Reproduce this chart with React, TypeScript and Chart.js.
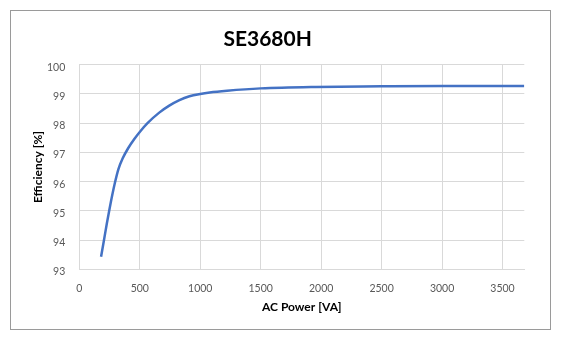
import React, { useEffect, useRef } from "react";
import { Chart, registerables } from "chart.js";

Chart.register(...registerables);

const chartTitle = "SE3680H";
const xAxisTitle = "AC Power [VA]";
const yAxisTitle = "Efficiency [%]";

const powerVA = [180, 205, 227, 248, 273, 295, 323, 358, 405, 455, 500, 564, 661, 744, 828, 911, 1000, 1078, 1222, 1500, 1917, 2500, 3000, 3680];
const efficiency = [93.43, 94.02, 94.55, 95.02, 95.55, 95.97, 96.42, 96.79, 97.15, 97.46, 97.7, 98.0, 98.36, 98.6, 98.79, 98.92, 99.0, 99.05, 99.11, 99.19, 99.24, 99.26, 99.27, 99.27];

const xTickValues = [0, 500, 1000, 1500, 2000, 2500, 3000, 3500];
const yTickValues = [93, 94, 95, 96, 97, 98, 99, 100];
const xMin = 0;
const xMax = 3680;
const yMin = 93;
const yMax = 100;

export default function App() {
  const canvasRef = useRef<HTMLCanvasElement | null>(null);

  useEffect(() => {
    if (!canvasRef.current) return;
    const font = "Lato, 'Liberation Sans', sans-serif";
    const chart = new Chart(canvasRef.current, {
      type: "line",
      data: {
        datasets: [
          {
            data: powerVA.map((x, i) => ({ x, y: efficiency[i] })),
            borderColor: "#4472C4",
            borderWidth: 2.5,
            pointRadius: 0,
            cubicInterpolationMode: "monotone",
            fill: false,
          },
        ],
      },
      options: {
        animation: false,
        responsive: false,
        maintainAspectRatio: false,
        layout: { padding: { left: 0, right: 25.7, top: 0, bottom: 0 } },
        plugins: {
          legend: { display: false },
          tooltip: { enabled: false },
          title: {
            display: true,
            text: chartTitle,
            color: "#000000",
            font: { family: font, size: 21, weight: "bold" },
            padding: { top: 15.6, bottom: 12.9 },
          },
        },
        scales: {
          x: {
            type: "linear",
            min: xMin,
            max: xMax,
            afterFit: (s: any) => {
              s.height = 59.7;
            },
            afterBuildTicks: (s: any) => {
              s.ticks = xTickValues.map((v) => ({ value: v }));
            },
            ticks: {
              color: "#595959",
              font: { family: font, size: 10.5 },
              padding: 13,
              maxRotation: 0,
              autoSkip: false,
              callback: (v: any) => String(v),
            },
            grid: { color: "#d9d9d9", drawTicks: false, lineWidth: 1 },
            border: { color: "#d9d9d9", width: 1 },
            title: {
              display: true,
              text: xAxisTitle,
              color: "#000000",
              font: { family: font, size: 12, weight: "bold" },
              padding: { top: 0, bottom: 14.5 },
            },
          },
          y: {
            type: "linear",
            min: yMin,
            max: yMax,
            afterFit: (s: any) => {
              s.width = 68.3;
            },
            afterBuildTicks: (s: any) => {
              s.ticks = yTickValues.map((v) => ({ value: v }));
            },
            ticks: {
              color: "#595959",
              font: { family: font, size: 10.5 },
              padding: 14,
              labelOffset: 2.5,
              autoSkip: false,
              callback: (v: any) => String(v),
            },
            grid: { color: "#d9d9d9", drawTicks: false, lineWidth: 1 },
            border: { color: "#d9d9d9", width: 1 },
            title: {
              display: true,
              text: yAxisTitle,
              color: "#000000",
              font: { family: font, size: 12, weight: "bold" },
              padding: { top: 20.1, bottom: 0 },
            },
          },
        },
      },
    });
    return () => chart.destroy();
  }, []);

  return (
    <div style={{ paddingTop: 2, paddingLeft: 2 }}>
      <div
        style={{
          width: 541,
          height: 320,
          border: "1px solid #9a9a9a",
          boxSizing: "border-box",
          background: "#ffffff",
        }}
      >
        <canvas ref={canvasRef} width={539} height={318} style={{ display: "block" }} />
      </div>
    </div>
  );
}
